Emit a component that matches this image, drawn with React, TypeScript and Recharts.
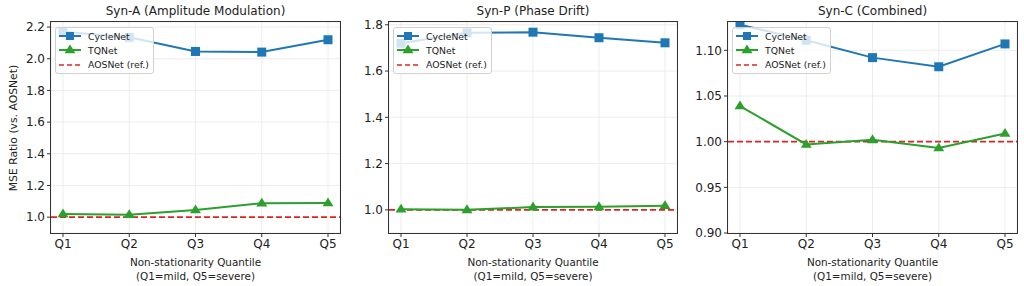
import React from "react";
import {
  LineChart,
  Line,
  XAxis,
  YAxis,
  CartesianGrid,
  ReferenceLine,
} from "recharts";

// Quantile categories on the x axis
const quantiles = ["Q1", "Q2", "Q3", "Q4", "Q5"];

// MSE ratio vs. AOSNet
const synACycle = [2.17, 2.135, 2.046, 2.042, 2.12];
const synATq = [1.02, 1.015, 1.045, 1.088, 1.09];
const synPCycle = [1.72, 1.765, 1.768, 1.744, 1.722];
const synPTq = [1.003, 1.0, 1.012, 1.013, 1.018];
const synCCycle = [1.128, 1.111, 1.092, 1.082, 1.107];
const synCTq = [1.039, 0.997, 1.002, 0.993, 1.009];

// y ticks per panel
const ticksA = [1.0, 1.2, 1.4, 1.6, 1.8, 2.0, 2.2];
const ticksP = [1.0, 1.2, 1.4, 1.6, 1.8];
const ticksC = [0.9, 0.95, 1.0, 1.05, 1.1];

const BLUE = "#1f77b4";
const GREEN = "#2ca02c";
const RED = "#d62728";
const FONT = "DejaVu Sans, sans-serif";
const PLOT_TOP = 22;
const PLOT_BOTTOM = 233;

function Square({ cx, cy, color, s = 9 }: { cx: number; cy: number; color: string; s?: number }) {
  return <rect x={cx - s / 2} y={cy - s / 2} width={s} height={s} fill={color} />;
}

function Triangle({ cx, cy, color }: { cx: number; cy: number; color: string }) {
  const r = 5.5;
  const pts = `${cx},${cy - r} ${cx - r},${cy + r * 0.6} ${cx + r},${cy + r * 0.6}`;
  return <polygon points={pts} fill={color} />;
}

// legend drawn as an overlay, semi transparent like matplotlib's
function LegendBox({ left, top }: { left: number; top: number }) {
  const rows = [
    { name: "CycleNet", color: BLUE, kind: "sq" },
    { name: "TQNet", color: GREEN, kind: "tri" },
    { name: "AOSNet (ref.)", color: RED, kind: "dash" },
  ];
  return (
    <div
      style={{
        position: "absolute",
        left,
        top,
        background: "rgba(255,255,255,0.8)",
        border: "1px solid #d0d0d0",
        borderRadius: 3,
        padding: "1px 4px 1px 2px",
        fontFamily: FONT,
        fontSize: 9.3,
        color: "#222",
        whiteSpace: "nowrap",
      }}
    >
      {rows.map((r) => (
        <div key={r.name} style={{ display: "flex", alignItems: "center", height: 14.3 }}>
          <svg width={24} height={12} style={{ marginRight: 6, flex: "none" }}>
            {r.kind === "dash" ? (
              <line x1={1} x2={23} y1={6} y2={6} stroke={r.color} strokeWidth={1.5} strokeDasharray="5 3" />
            ) : (
              <line x1={1} x2={23} y1={6} y2={6} stroke={r.color} strokeWidth={2} />
            )}
            {r.kind === "sq" && <Square cx={12} cy={6} color={r.color} s={8} />}
            {r.kind === "tri" && <Triangle cx={12} cy={6} color={r.color} />}
          </svg>
          <span>{r.name}</span>
        </div>
      ))}
    </div>
  );
}

interface PanelProps {
  title: string;
  left: number;
  width: number;
  yWidth: number;
  rightMargin: number;
  domain: [number, number];
  ticks: number[];
  digits: number;
  cycle: number[];
  tq: number[];
  yLabel?: string;
}

function Panel({ title, left, width, yWidth, rightMargin, domain, ticks, digits, cycle, tq, yLabel }: PanelProps) {
  const data = quantiles.map((q, i) => ({ q, cycle: cycle[i], tq: tq[i] }));
  const plotLeft = yWidth;
  const plotWidth = width - yWidth - rightMargin;
  const tickStyle = { fontSize: 12, fill: "#222", fontFamily: FONT };
  const xHeight = 22;

  return (
    <div style={{ position: "absolute", left, top: 0, width, height: 286 }}>
      <div
        style={{
          position: "absolute",
          left: plotLeft,
          width: plotWidth,
          top: 4,
          textAlign: "center",
          fontFamily: FONT,
          fontSize: 12,
          color: "#222",
        }}
      >
        {title}
      </div>
      <LineChart
        width={width}
        height={286}
        data={data}
        margin={{ top: PLOT_TOP, right: rightMargin, bottom: 286 - PLOT_BOTTOM - xHeight, left: 0 }}
      >
        <CartesianGrid stroke="#e8e8e8" strokeWidth={0.8} />
        <XAxis
          dataKey="q"
          height={xHeight}
          padding={{ left: 12, right: 12 }}
          tick={tickStyle}
          tickLine={{ stroke: "#333" }}
          tickSize={4}
          axisLine={false}
          interval={0}
        />
        <YAxis
          width={yWidth}
          domain={domain}
          allowDataOverflow
          ticks={ticks}
          tickFormatter={(v: number) => v.toFixed(digits)}
          tick={tickStyle}
          tickLine={{ stroke: "#333" }}
          tickSize={4}
          axisLine={false}
        />
        <ReferenceLine y={1} stroke={RED} strokeWidth={1.6} strokeDasharray="6 3" />
        <Line
          dataKey="cycle"
          stroke={BLUE}
          strokeWidth={2}
          isAnimationActive={false}
          dot={(p: any) => <Square key={`c${p.index}`} cx={p.cx} cy={p.cy} color={BLUE} />}
          activeDot={false}
        />
        <Line
          dataKey="tq"
          stroke={GREEN}
          strokeWidth={2}
          isAnimationActive={false}
          dot={(p: any) => <Triangle key={`t${p.index}`} cx={p.cx} cy={p.cy} color={GREEN} />}
          activeDot={false}
        />
      </LineChart>
      <LegendBox left={plotLeft + 4} top={PLOT_TOP + 5} />
      {/* axes frame */}
      <div
        style={{
          position: "absolute",
          left: plotLeft - 1,
          top: PLOT_TOP - 1,
          width: plotWidth,
          height: PLOT_BOTTOM - PLOT_TOP,
          border: "1px solid #333",
          pointerEvents: "none",
        }}
      />
      <div
        style={{
          position: "absolute",
          left: plotLeft,
          width: plotWidth,
          top: 255,
          textAlign: "center",
          fontFamily: FONT,
          fontSize: 10.4,
          lineHeight: "14px",
          color: "#222",
        }}
      >
        Non-stationarity Quantile
        <br />
        (Q1=mild, Q5=severe)
      </div>
      {yLabel && (
        <div
          style={{
            position: "absolute",
            left: 13,
            top: 128,
            transform: "translate(-50%, -50%) rotate(-90deg)",
            whiteSpace: "nowrap",
            fontFamily: FONT,
            fontSize: 10.8,
            color: "#222",
          }}
        >
          {yLabel}
        </div>
      )}
    </div>
  );
}

export default function App() {
  return (
    <div style={{ position: "absolute", left: 0, top: 0, width: 1024, height: 286, background: "#fff", overflow: "hidden" }}>
      <Panel
        title="Syn-A (Amplitude Modulation)"
        left={0}
        width={345}
        yWidth={51}
        rightMargin={5}
        domain={[0.9, 2.232]}
        ticks={ticksA}
        digits={1}
        cycle={synACycle}
        tq={synATq}
        yLabel="MSE Ratio (vs. AOSNet)"
      />
      <Panel
        title="Syn-P (Phase Drift)"
        left={345}
        width={337}
        yWidth={44}
        rightMargin={5}
        domain={[0.9, 1.812]}
        ticks={ticksP}
        digits={1}
        cycle={synPCycle}
        tq={synPTq}
      />
      <Panel
        title="Syn-C (Combined)"
        left={682}
        width={342}
        yWidth={46}
        rightMargin={7}
        domain={[0.9, 1.131]}
        ticks={ticksC}
        digits={2}
        cycle={synCCycle}
        tq={synCTq}
      />
    </div>
  );
}
